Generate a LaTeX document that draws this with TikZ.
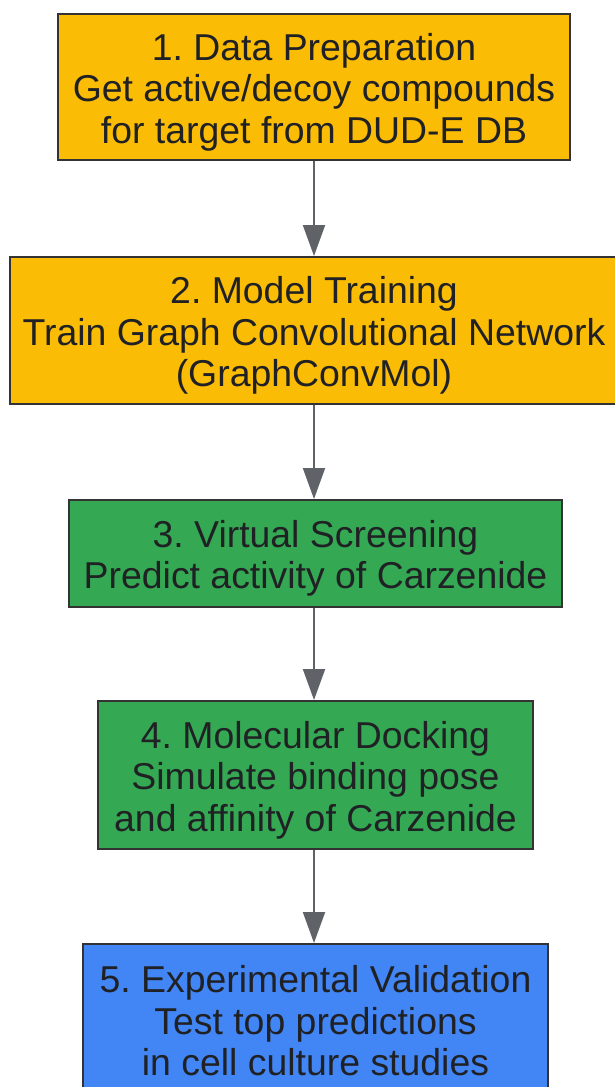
\documentclass[tikz,border=0pt]{standalone}
\usepackage{fontspec}
\setmainfont{Liberation Sans}
\usetikzlibrary{arrows.meta}
\definecolor{cOrange}{HTML}{FBBC05}
\definecolor{cGreen}{HTML}{34A853}
\definecolor{cBlue}{HTML}{4285F4}
\definecolor{cBorder}{HTML}{333333}
\definecolor{cText}{HTML}{202124}
\definecolor{cArrow}{HTML}{5F6368}
\frenchspacing
\tikzset{
  stepbox/.style={draw=cBorder, line width=2pt, rectangle, inner sep=0pt},
  steptext/.style={align=center, inner sep=0pt, text=cText,
    font=\fontsize{37.4}{41.5}\selectfont\frenchspacing},
  arr/.style={draw=cArrow, line width=2pt, -{Triangle[width=22pt,length=31pt]}}
}
\begin{document}
\begin{tikzpicture}[x=1pt,y=-1pt]
\useasboundingbox (0,0) rectangle (615,1087);
\clip (0,0) rectangle (615,1087);
\fill[white] (0,0) rectangle (615,1087);
\node[stepbox, fill=cOrange, minimum width=512pt, minimum height=146pt] (b1) at (314,87) {};
\node[steptext, yshift=-5pt] (t1) at (b1)
  {1. Data Preparation\\Get active/decoy compounds\\for target from DUD-E DB};
\node[stepbox, fill=cOrange, minimum width=608pt, minimum height=147pt] (b2) at (314,330.5) {};
\node[steptext, yshift=-5pt] (t2) at (b2)
  {2. Model Training\\Train Graph Convolutional Network\\(GraphConvMol)};
\node[stepbox, fill=cGreen, minimum width=493pt, minimum height=107pt] (b3) at (315.5,553.5) {};
\node[steptext, yshift=-5pt] (t3) at (b3)
  {3. Virtual Screening\\Predict activity of Carzenide};
\node[stepbox, fill=cGreen, minimum width=435pt, minimum height=148pt] (b4) at (315.5,775) {};
\node[steptext, yshift=-5pt] (t4) at (b4)
  {4. Molecular Docking\\Simulate binding pose\\and affinity of Carzenide};
\node[stepbox, fill=cBlue, minimum width=465pt, minimum height=148pt] (b5) at (315.5,1018) {};
\node[steptext, yshift=-3pt] (t5) at (b5)
  {5. Experimental Validation\\Test top predictions\\in cell culture studies};
\draw[arr] (b1.south) -- (b1.south |- b2.north);
\draw[arr] (b2.south) -- (b2.south |- b3.north);
\draw[arr] (b2.south |- b3.south) -- (b2.south |- b4.north);
\draw[arr] (b2.south |- b4.south) -- (b2.south |- b5.north);
\end{tikzpicture}
\end{document}
